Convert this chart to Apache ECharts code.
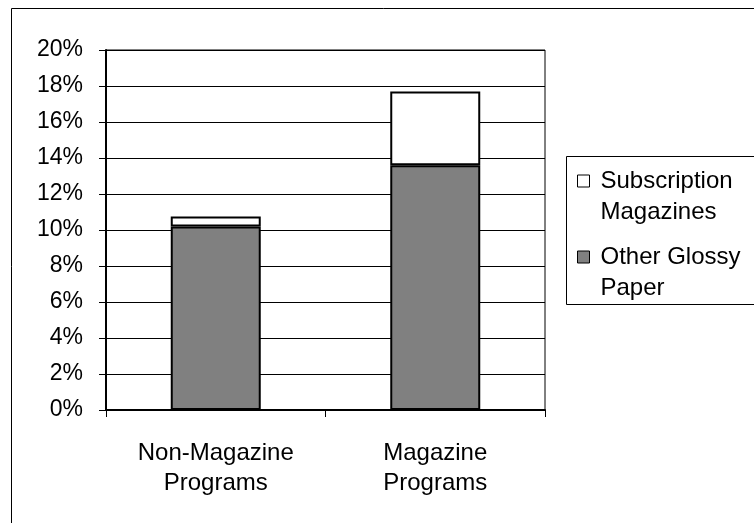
<!DOCTYPE html>
<html>
<head>
<meta charset="utf-8">
<script src="https://cdn.jsdelivr.net/npm/echarts@6/dist/echarts.min.js"></script>
<style>
html,body{margin:0;padding:0;background:#fff;}
#c{width:754px;height:523px;}
</style>
</head>
<body>
<div id="c"></div>
<script>
var categories = ['Non-Magazine\nPrograms', 'Magazine\nPrograms'];
var otherGlossy = [10.2, 13.6];
var subscription = [0.55, 4.1];
var seriesNames = ['Other Glossy Paper', 'Subscription Magazines'];
var legendLabels = ['Other Glossy\nPaper', 'Subscription\nMagazines'];
var yTicks = [0, 2, 4, 6, 8, 10, 12, 14, 16, 18, 20];

var FONT = "'Liberation Sans', Arial, sans-serif";
var FS = 24;
var LLH = 31;

var chart = echarts.init(document.getElementById('c'), null, {renderer: 'canvas'});

function legendFor(idx, iconCenter) {
  return {
    data: [seriesNames[idx]],
    left: 577,
    top: iconCenter - 1.5 * LLH,
    orient: 'vertical',
    padding: 0,
    icon: 'rect',
    itemWidth: 12,
    itemHeight: 12,
    selectedMode: false,
    formatter: function () { return ' \n' + legendLabels[idx]; },
    itemStyle: { borderColor: '#000', borderWidth: 1 },
    textStyle: {
      fontFamily: FONT, fontSize: FS, color: '#000',
      lineHeight: LLH, padding: [0, 0, 0, 6]
    }
  };
}

chart.setOption({
  animation: false,
  backgroundColor: '#fff',
  textStyle: { fontFamily: FONT },
  grid: {
    left: 106, top: 50, right: 209, bottom: 113,
    show: true, borderColor: '#000', borderWidth: 1, backgroundColor: 'transparent'
  },
  legend: [legendFor(1, 181), legendFor(0, 257)],
  xAxis: {
    type: 'category',
    data: categories,
    boundaryGap: true,
    axisLine: { lineStyle: { color: '#000', width: 2 } },
    axisTick: { show: true, alignWithLabel: false, length: 7, lineStyle: { color: '#000', width: 1 } },
    axisLabel: { color: '#000', fontFamily: FONT, fontSize: FS, lineHeight: 30, margin: 28, interval: 0 }
  },
  yAxis: {
    type: 'value',
    min: 0, max: 20, interval: 2,
    axisLine: { show: true, lineStyle: { color: '#000', width: 2 } },
    axisTick: { show: true, length: 7, lineStyle: { color: '#000', width: 1 } },
    axisLabel: { color: '#000', fontFamily: FONT, fontSize: 23, margin: 23, padding: [3, 0, 0, 0], formatter: '{value}%' },
    splitLine: { show: true, lineStyle: { color: '#000', width: 1 } }
  },
  series: [
    {
      name: seriesNames[0], type: 'bar', stack: 's', barWidth: '41%',
      data: otherGlossy,
      itemStyle: { color: '#808080', borderColor: '#000', borderWidth: 2 }
    },
    {
      name: seriesNames[1], type: 'bar', stack: 's', barWidth: '41%',
      data: subscription,
      itemStyle: { color: '#ffffff', borderColor: '#000', borderWidth: 2 }
    }
  ],
  graphic: [
    { type: 'rect', shape: { x: 11.5, y: 8.5, width: 800, height: 600 }, style: { fill: 'none', stroke: '#000', lineWidth: 1 }, silent: true },
    { type: 'rect', shape: { x: 566.5, y: 156.5, width: 300, height: 148 }, style: { fill: 'none', stroke: '#000', lineWidth: 1 }, silent: true }
  ]
});
</script>
</body>
</html>
